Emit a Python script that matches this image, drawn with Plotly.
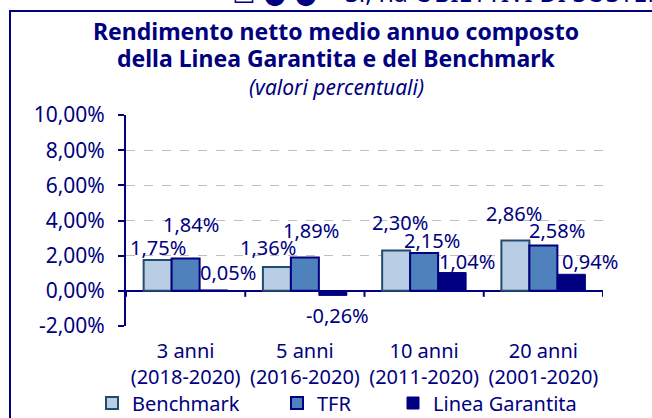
import plotly.graph_objects as go

categories = ["3 anni<br>(2018-2020)", "5 anni<br>(2016-2020)", "10 anni<br>(2011-2020)", "20 anni<br>(2001-2020)"]
benchmark = [1.75, 1.36, 2.30, 2.86]
tfr = [1.84, 1.89, 2.15, 2.58]
linea = [0.05, -0.26, 1.04, 0.94]
series_names = ["Benchmark", "TFR", "Linea Garantita"]
y_ticks = [-2, 0, 2, 4, 6, 8, 10]

# label offsets (pixels) relative to category centre / bar end
bench_off = [(-28, 13), (-37, 19), (-24, 28), (-29, 27)]
tfr_off = [(5, 34), (6, 27), (8, 13), (14, 15)]
linea_off = [(42, 17), (33, -20), (43, 11), (47, 13)]

NAVY = "#000080"
FONT = "Noto Sans"
W, H = 652, 418
L, R, T, B = 126, 49, 115, 92
pw, ph = W - L - R, H - T - B

def px_x(p):
    return (p - L) / pw

def px_y(p):
    return (H - B - p) / ph

def fmt(v):
    return f"{v:.2f}".replace(".", ",") + "%"

fig = go.Figure()
fig.add_bar(x=categories, y=benchmark, name=series_names[0],
            marker=dict(color="#B9CDE5", line=dict(color="#244A6E", width=2)),
            legend="legend")
fig.add_bar(x=categories, y=tfr, name=series_names[1],
            marker=dict(color="#4F81BD", line=dict(color=NAVY, width=2)),
            legend="legend2")
fig.add_bar(x=categories, y=linea, name=series_names[2],
            marker=dict(color=NAVY, line=dict(color=NAVY, width=1)),
            legend="legend3")

annotations = []
for vals, offs in ((benchmark, bench_off), (tfr, tfr_off), (linea, linea_off)):
    for c, v, (dx, dy) in zip(categories, vals, offs):
        annotations.append(dict(x=c, y=v, xref="x", yref="y", text=fmt(v), showarrow=False,
                                xshift=dx, yshift=dy, xanchor="center", yanchor="middle",
                                font=dict(family=FONT, size=20, color=NAVY)))

title_cx = px_x(336)
annotations += [
    dict(x=title_cx, y=px_y(31), xref="paper", yref="paper", showarrow=False,
         text="<b>Rendimento netto medio annuo composto</b>", xanchor="center", yanchor="middle",
         font=dict(family=FONT, size=23, color=NAVY)),
    dict(x=title_cx, y=px_y(58), xref="paper", yref="paper", showarrow=False,
         text="<b>della Linea Garantita e del Benchmark</b>", xanchor="center", yanchor="middle",
         font=dict(family=FONT, size=23, color=NAVY)),
    dict(x=title_cx, y=px_y(87), xref="paper", yref="paper", showarrow=False,
         text="<i>(valori percentuali)</i>", xanchor="center", yanchor="middle",
         font=dict(family=FONT, size=21, color=NAVY)),
    dict(x=px_x(230), y=px_y(11), xref="paper", yref="paper", showarrow=False,
         text="☐ ● ●", xanchor="left", yanchor="bottom",
         font=dict(family="DejaVu Sans", size=26, color=NAVY)),
    dict(x=px_x(343), y=px_y(11), xref="paper", yref="paper", showarrow=False,
         text="Sì, ha OBIETTIVI DI SOSTEN", xanchor="left", yanchor="bottom",
         font=dict(family=FONT, size=25, color=NAVY)),
]

shapes = [dict(type="rect", xref="paper", yref="paper", x0=px_x(10), x1=px_x(700),
               y0=px_y(460), y1=px_y(11), line=dict(color=NAVY, width=2), layer="below")]
for b in [-0.5, 0.5, 1.5, 2.5, 3.5]:
    shapes.append(dict(type="line", xref="x", yref="y", x0=b, x1=b, y0=0, y1=-6,
                       ysizemode="pixel", yanchor=0, line=dict(color=NAVY, width=2)))

leg_common = dict(orientation="h", yanchor="middle", y=px_y(403), xanchor="left",
                  font=dict(family=FONT, size=20, color=NAVY), bgcolor="rgba(0,0,0,0)",
                  visible=True)

fig.update_layout(
    width=W, height=H, margin=dict(l=L, r=R, t=T, b=B, autoexpand=False),
    paper_bgcolor="white", plot_bgcolor="white", showlegend=True,
    barmode="group", bargap=0.296, bargroupgap=0,
    font=dict(family=FONT, size=20, color=NAVY),
    annotations=annotations, shapes=shapes,
    legend=dict(x=px_x(92), **leg_common),
    legend2=dict(x=px_x(277), **leg_common),
    legend3=dict(x=px_x(393), **leg_common),
    xaxis=dict(type="category", range=[-0.5, 3.5], showline=False, showgrid=False,
               ticks="", ticklabelstandoff=11,
               tickfont=dict(family=FONT, size=20, color=NAVY)),
    yaxis=dict(range=[-2, 10], tickvals=y_ticks, ticktext=[fmt(v) for v in y_ticks],
               showline=True, linecolor=NAVY, linewidth=2, ticks="outside", ticklen=6,
               tickcolor=NAVY, tickwidth=2, showgrid=True, gridcolor="#BFBFBF",
               griddash="dash", gridwidth=1, zeroline=True, zerolinecolor=NAVY,
               zerolinewidth=2, ticklabelstandoff=9,
               tickfont=dict(family=FONT, size=21, color=NAVY)),
)

fig.write_html("out.html", post_script="document.body.style.margin='0';",
               config={"displayModeBar": False})
